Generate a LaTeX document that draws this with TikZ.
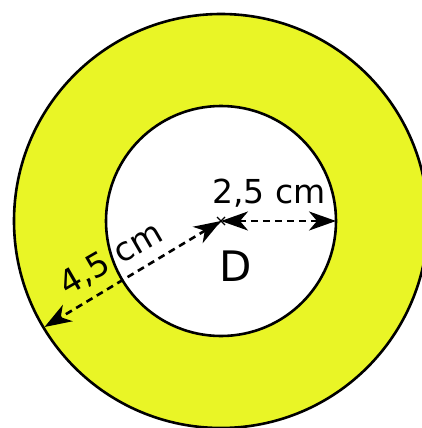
\documentclass[tikz,border=0pt]{standalone}
\usepackage{fontspec}
\setmainfont{DejaVu Sans}
\usetikzlibrary{arrows.meta,calc}
\definecolor{ringyellow}{RGB}{233,245,38}
\tikzset{
  ring/.style={line width=2.6pt, draw=black},
  dim/.style={line width=2.6pt, dash pattern=on 7pt off 5pt,
    {Stealth[length=27pt,width=19pt,inset=8pt]}-{Stealth[length=27pt,width=19pt,inset=8pt]}},
  lab/.style={inner sep=0pt, font=\fontsize{33}{40}\selectfont},
}
\begin{document}
\begin{tikzpicture}[x=1pt,y=-1pt]
\useasboundingbox[fill=white] (0,0) rectangle (421,428);
\coordinate (D) at (221,221);
\fill[ringyellow, even odd rule] (D) circle[radius=207] (D) circle[radius=115];
\draw[ring] (D) circle[radius=207];
\draw[ring] (D) circle[radius=115];
\coordinate (R) at (336,221);
\coordinate (L) at (44.5,327);
\draw[dim] (D) -- (R);
\draw[dim] (D) -- (L);
\draw[line width=1.2pt] ($(D)+(-4,-4)$) -- ($(D)+(4,4)$) ($(D)+(-4,4)$) -- ($(D)+(4,-4)$);
\node[lab] (t25) at (269,193) {2,5 cm};
\node[lab, rotate=30] (t45) at (111,259) {4,5 cm};
\node[inner sep=0pt, font=\fontsize{42}{50}\selectfont] (dl) at (236,266) {D};
\end{tikzpicture}
\end{document}
